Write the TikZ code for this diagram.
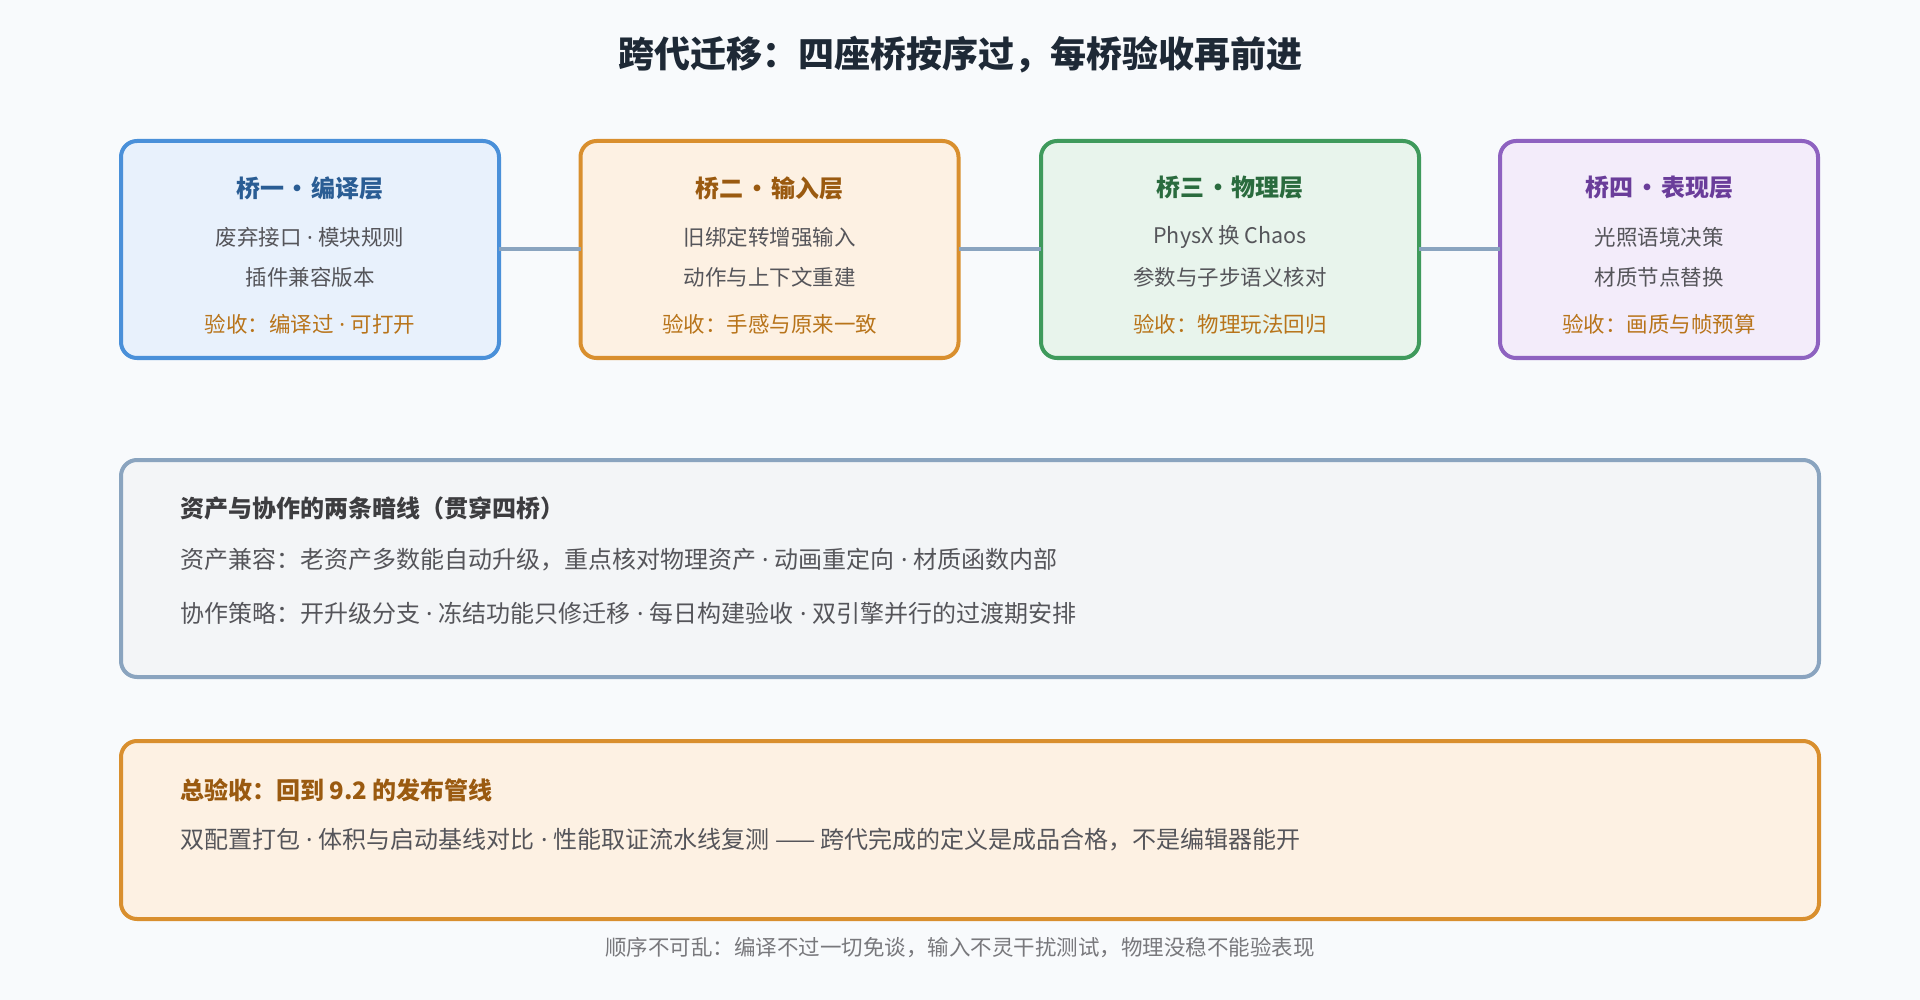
\documentclass[tikz,border=0pt]{standalone}
\usepackage{fontspec}
\setmainfont{Noto Sans CJK SC}
\newfontfamily\latinfont{Noto Sans}
\usetikzlibrary{positioning}

\begin{document}
\begin{tikzpicture}[x=1pt,y=-1pt,line cap=rect,
  bridge/.style={draw, line width=4pt, rounded corners=16pt, minimum width=378pt, minimum height=217pt, inner sep=0},
  band/.style={draw, line width=4pt, rounded corners=16pt, minimum width=1698pt, inner sep=0},
  link/.style={draw=col_link, line width=4pt},
  txt/.style={inner sep=0, outer sep=0}]
\def\cjkfontA#1{\fontsize{36pt}{42pt}\bfseries{#1}}
\def\cjkfontB#1{\fontsize{24pt}{28pt}\bfseries{#1}}
\def\cjkfontC#1{\fontsize{21.5pt}{26pt}\selectfont{#1}}
\def\cjkfontD#1{\fontsize{24pt}{28pt}\selectfont{#1}}
\def\sep{{\latinfont\ ·\ }}
\def\bul{\kern2pt•\kern2pt}
\definecolor{col_bg}{RGB}{248, 250, 252}
\definecolor{col_title}{RGB}{30, 41, 54}
\definecolor{col_text}{RGB}{85, 85, 90}
\definecolor{col_accept}{RGB}{184, 116, 26}
\definecolor{col_link}{RGB}{138, 164, 191}
\definecolor{col_blue}{RGB}{74, 144, 217}
\definecolor{col_blue_fill}{RGB}{232, 241, 252}
\definecolor{col_blue_text}{RGB}{42, 93, 148}
\definecolor{col_orange}{RGB}{217, 143, 46}
\definecolor{col_orange_fill}{RGB}{253, 241, 227}
\definecolor{col_orange_text}{RGB}{154, 90, 16}
\definecolor{col_green}{RGB}{63, 154, 92}
\definecolor{col_green_fill}{RGB}{232, 244, 236}
\definecolor{col_green_text}{RGB}{42, 107, 62}
\definecolor{col_purple}{RGB}{142, 98, 192}
\definecolor{col_purple_fill}{RGB}{243, 236, 250}
\definecolor{col_purple_text}{RGB}{106, 61, 154}
\definecolor{col_gray_fill}{RGB}{243, 245, 247}
\definecolor{col_head}{RGB}{61, 61, 64}
\definecolor{col_foot}{RGB}{120, 120, 124}
\fill [col_bg] (0,0) rectangle (1920,1000);
\useasboundingbox (0,0) rectangle (1920,1000);
\node[txt, col_title] (title) at (960,55) {\cjkfontA{跨代迁移：四座桥按序过，每桥验收再前进}};
% four bridges
\node[bridge, draw=col_blue, fill=col_blue_fill] (bridgeA) at (310,249.5) {};
\node[bridge, draw=col_orange, fill=col_orange_fill] (bridgeB) at (769.5,249.5) {};
\node[bridge, draw=col_green, fill=col_green_fill] (bridgeC) at (1230,249.5) {};
\node[bridge, draw=col_purple, fill=col_purple_fill, minimum width=318pt] (bridgeD) at (1659,249.5) {};
\draw [link] (bridgeA.east) -- (bridgeB.west);
\draw [link] (bridgeB.east) -- (bridgeC.west);
\draw [link] (bridgeC.east) -- (bridgeD.west);
\node[txt, col_blue_text] (headA) at (310,188) {\cjkfontB{桥一\bul 编译层}};
\node[txt, col_text] (lineA1) at (310,237) {\cjkfontC{废弃接口\sep 模块规则}};
\node[txt, col_text] (lineA2) at (310,277) {\cjkfontC{插件兼容版本}};
\node[txt, col_accept] (acceptA) at (310,324) {\cjkfontC{验收：编译过\sep 可打开}};
\node[txt, col_orange_text] (headB) at (769.5,188) {\cjkfontB{桥二\bul 输入层}};
\node[txt, col_text] (lineB1) at (769.5,237) {\cjkfontC{旧绑定转增强输入}};
\node[txt, col_text] (lineB2) at (769.5,277) {\cjkfontC{动作与上下文重建}};
\node[txt, col_accept] (acceptB) at (769.5,324) {\cjkfontC{验收：手感与原来一致}};
\node[txt, col_green_text] (headC) at (1230,188) {\cjkfontB{桥三\bul 物理层}};
\node[txt, col_text] (lineC1) at (1230,237) {\cjkfontC{PhysX 换 Chaos}};
\node[txt, col_text] (lineC2) at (1230,277) {\cjkfontC{参数与子步语义核对}};
\node[txt, col_accept] (acceptC) at (1230,324) {\cjkfontC{验收：物理玩法回归}};
\node[txt, col_purple_text] (headD) at (1659,188) {\cjkfontB{桥四\bul 表现层}};
\node[txt, col_text] (lineD1) at (1659,237) {\cjkfontC{光照语境决策}};
\node[txt, col_text] (lineD2) at (1659,277) {\cjkfontC{材质节点替换}};
\node[txt, col_accept] (acceptD) at (1659,324) {\cjkfontC{验收：画质与帧预算}};
% threads through all bridges
\node[band, draw=col_link, fill=col_gray_fill, minimum height=217pt] (threads) at (970,568.5) {};
\node[txt, col_head, anchor=west] (threadsHead) at (180,508) {\cjkfontB{资产与协作的两条暗线（贯穿四桥）}};
\node[txt, col_text, anchor=west] (threadsA) at (180,560) {\cjkfontD{资产兼容：老资产多数能自动升级，重点核对物理资产\sep 动画重定向\sep 材质函数内部}};
\node[txt, col_text, anchor=west] (threadsB) at (180,613) {\cjkfontD{协作策略：开升级分支\sep 冻结功能只修迁移\sep 每日构建验收\sep 双引擎并行的过渡期安排}};
% final acceptance
\node[band, draw=col_orange, fill=col_orange_fill, minimum height=178pt] (final) at (970,830) {};
\node[txt, col_orange_text, anchor=west] (finalHead) at (180,790) {\cjkfontB{总验收：回到 9.2 的发布管线}};
\node[txt, col_text, anchor=west] (finalLine) at (180,840) {\cjkfontD{双配置打包\sep 体积与启动基线对比\sep 性能取证流水线复测 —— 跨代完成的定义是成品合格，不是编辑器能开}};
\node[txt, col_foot] (footer) at (960,948) {\cjkfontC{顺序不可乱：编译不过一切免谈，输入不灵干扰测试，物理没稳不能验表现}};
\end{tikzpicture}
\end{document}
